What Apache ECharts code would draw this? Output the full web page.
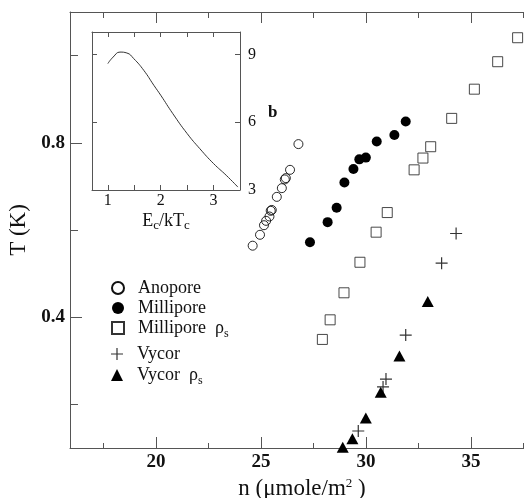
<!DOCTYPE html>
<html>
<head>
<meta charset="utf-8">
<script src="https://cdn.jsdelivr.net/npm/echarts@6/dist/echarts.min.js"></script>
<style>
  html, body { margin: 0; padding: 0; background: #fff; }
  #chart { width: 524px; height: 498px; }
</style>
</head>
<body>
<div id="chart"></div>
<script>
// main plot: T (K) vs n (umole/m^2)
const anoporeN = [24.60, 24.95, 25.14, 25.24, 25.40, 25.46, 25.51, 25.75, 25.99, 26.13, 26.18, 26.38, 26.78]
const anoporeT = [0.564, 0.589, 0.611, 0.621, 0.631, 0.644, 0.646, 0.676, 0.696, 0.716, 0.719, 0.738, 0.797]
const milliporeN = [27.33, 28.17, 28.60, 28.97, 29.40, 29.68, 29.99, 30.51, 31.35, 31.89]
const milliporeT = [0.572, 0.618, 0.651, 0.709, 0.740, 0.762, 0.766, 0.803, 0.818, 0.849]
const milliRhoN = [27.92, 28.29, 28.95, 29.71, 30.48, 31.01, 32.29, 32.71, 33.08, 34.08, 35.16, 36.27, 37.22]
const milliRhoT = [0.349, 0.394, 0.456, 0.526, 0.595, 0.640, 0.738, 0.765, 0.791, 0.856, 0.923, 0.986, 1.041]
const vycorN = [29.63, 30.81, 30.95, 31.89, 33.60, 34.29]
const vycorT = [0.139, 0.240, 0.258, 0.359, 0.524, 0.592]
const vycorRhoN = [28.89, 29.35, 29.99, 30.70, 31.59, 32.94]
const vycorRhoT = [0.102, 0.121, 0.169, 0.228, 0.311, 0.436]

// inset: b vs Ec/kTc
const insetX = [1.0, 1.1, 1.23, 1.36, 1.49, 1.68, 1.87, 2.0, 2.23, 2.5, 2.74, 3.0, 3.24, 3.46]
const insetB = [8.60, 8.89, 9.11, 9.07, 8.82, 8.30, 7.64, 7.20, 6.38, 5.50, 4.83, 4.17, 3.65, 3.13]

const xMajor = [20, 25, 30, 35]
const xMinor = [17.5, 22.5, 27.5, 32.5, 37.5]
const yMajor = [0.4, 0.8]
const yMinor = [0.2, 0.6, 1.0]
const insetXTicks = [1, 1.5, 2, 2.5, 3]
const insetXLabels = [1, 2, 3]
const insetYTicks = [3, 6, 9]
const legendTop = ['Anopore', 'Millipore', 'Millipore ρs']
const legendBottom = ['Vycor', 'Vycor ρs']

const FONT = 'Liberation Serif'
const INK = '#111'
const AXIS = '#555'

const zip = (a, b) => a.map((v, i) => [v, b[i]])

const plusPath = 'path://M0,4.5h10v1h-10z M4.5,0h1v10h-1z'

function xAx (opt) {
  return Object.assign({
    type: 'value', gridIndex: 0, min: 15.9, max: 38,
    splitLine: { show: false },
    axisLine: { show: false, lineStyle: { color: AXIS, width: 1 } },
    axisTick: { show: true, inside: true, lineStyle: { color: AXIS } },
    axisLabel: { show: false }
  }, opt)
}
function yAx (opt) {
  return Object.assign({
    type: 'value', gridIndex: 0, min: 0.1, max: 1.1, position: 'left',
    splitLine: { show: false },
    axisLine: { show: false, lineStyle: { color: AXIS, width: 1 } },
    axisTick: { show: true, inside: true, lineStyle: { color: AXIS } },
    axisLabel: { show: false }
  }, opt)
}
function leg (names, top, gap) {
  return {
    orient: 'vertical', left: 111, top: top, itemGap: gap, padding: 0,
    itemWidth: 12, itemHeight: 12,
    textStyle: {
      fontFamily: FONT, fontSize: 18, color: INK, padding: [0, 0, 0, 9],
      rich: { sub: { fontFamily: FONT, fontSize: 12, color: INK, verticalAlign: 'bottom', padding: [11, 0, 0, 0] } }
    },
    formatter: name => name.replace(' ρs', '  ρ{sub|s}'),
    data: names
  }
}

const option = {
  animation: false,
  backgroundColor: '#fff',
  textStyle: { fontFamily: FONT, color: INK },
  grid: [
    { left: 70, top: 12, right: -10, bottom: 50, outerBoundsMode: 'none', containLabel: false },
    { left: 92, top: 32, width: 148, height: 158, outerBoundsMode: 'none', containLabel: false }
  ],
  legend: [leg(legendTop, 279, 2), leg(legendBottom, 345, 3)],
  xAxis: [
    xAx({
      position: 'bottom',
      axisLine: { show: true, onZero: false, lineStyle: { color: AXIS } },
      axisTick: { show: true, inside: true, length: 11, customValues: xMajor, lineStyle: { color: AXIS } },
      axisLabel: { show: true, customValues: xMajor, margin: 5, fontFamily: FONT, fontSize: 19, fontWeight: 'bold', color: INK },
      name: 'n (μmole/m{sup|2} )', nameLocation: 'middle', nameGap: 29,
      nameTextStyle: {
        fontFamily: FONT, fontSize: 23, color: INK,
        rich: { sup: { fontFamily: FONT, fontSize: 13, color: INK, verticalAlign: 'top', padding: [0, 0, 10, 0] } }
      }
    }),
    xAx({ position: 'bottom', axisTick: { show: true, inside: true, length: 5, customValues: xMinor, lineStyle: { color: AXIS } } }),
    xAx({
      position: 'top',
      axisLine: { show: true, onZero: false, lineStyle: { color: AXIS } },
      axisTick: { show: true, inside: true, length: 11, customValues: xMajor, lineStyle: { color: AXIS } }
    }),
    xAx({ position: 'top', axisTick: { show: true, inside: true, length: 6, customValues: xMinor, lineStyle: { color: AXIS } } }),
    // inset
    {
      type: 'value', gridIndex: 1, min: 0.7, max: 3.5, position: 'bottom',
      splitLine: { show: false },
      axisLine: { show: true, onZero: false, lineStyle: { color: AXIS } },
      axisTick: { show: true, inside: true, length: 5, customValues: insetXTicks, lineStyle: { color: AXIS } },
      axisLabel: { show: true, customValues: insetXLabels, margin: 3, fontFamily: FONT, fontSize: 16, color: INK },
      name: 'E{sub|c}/kT{sub|c}', nameLocation: 'middle', nameGap: 21,
      nameTextStyle: {
        fontFamily: FONT, fontSize: 18, color: INK,
        rich: { sub: { fontFamily: FONT, fontSize: 13, color: INK, verticalAlign: 'bottom', padding: [8, 0, 0, 0] } }
      }
    },
    {
      type: 'value', gridIndex: 1, min: 0.7, max: 3.5, position: 'top',
      splitLine: { show: false },
      axisLine: { show: true, onZero: false, lineStyle: { color: AXIS } },
      axisTick: { show: true, inside: true, length: 5, customValues: insetXTicks, lineStyle: { color: AXIS } },
      axisLabel: { show: false }
    }
  ],
  yAxis: [
    yAx({
      axisLine: { show: true, onZero: false, lineStyle: { color: AXIS } },
      axisTick: { show: true, inside: true, length: 12, customValues: yMajor, lineStyle: { color: AXIS } },
      axisLabel: { show: true, customValues: yMajor, margin: 5, fontFamily: FONT, fontSize: 19, fontWeight: 'bold', color: INK },
      name: 'T (K)', nameLocation: 'middle', nameGap: 38, nameRotate: 90,
      nameTextStyle: { fontFamily: FONT, fontSize: 23, color: INK }
    }),
    yAx({ axisTick: { show: true, inside: true, length: 8, customValues: yMinor, lineStyle: { color: AXIS } } }),
    // inset
    {
      type: 'value', gridIndex: 1, min: 3, max: 10, position: 'right',
      splitLine: { show: false },
      axisLine: { show: true, onZero: false, lineStyle: { color: AXIS } },
      axisTick: { show: true, inside: true, length: 5, customValues: insetYTicks, lineStyle: { color: AXIS } },
      axisLabel: { show: true, customValues: insetYTicks, margin: 8, fontFamily: FONT, fontSize: 16, color: INK }
    },
    {
      type: 'value', gridIndex: 1, min: 3, max: 10, position: 'left',
      splitLine: { show: false },
      axisLine: { show: true, onZero: false, lineStyle: { color: AXIS } },
      axisTick: { show: true, inside: true, length: 5, customValues: insetYTicks, lineStyle: { color: AXIS } },
      axisLabel: { show: false }
    }
  ],
  graphic: [
    { type: 'text', left: 268, top: 104, style: { text: 'b', font: 'bold 17px "Liberation Serif"', fill: INK } }
  ],
  series: [
    {
      name: 'Anopore', type: 'scatter', xAxisIndex: 0, yAxisIndex: 0,
      symbol: 'circle', symbolSize: 9,
      itemStyle: { color: 'rgba(255,255,255,0)', borderColor: INK, borderWidth: 0.9, opacity: 1 },
      data: zip(anoporeN, anoporeT)
    },
    {
      name: 'Millipore', type: 'scatter', xAxisIndex: 0, yAxisIndex: 0,
      symbol: 'circle', symbolSize: 10,
      itemStyle: { color: '#000', opacity: 1 },
      data: zip(milliporeN, milliporeT)
    },
    {
      name: 'Millipore ρs', type: 'scatter', xAxisIndex: 0, yAxisIndex: 0,
      symbol: 'rect', symbolSize: 10,
      itemStyle: { color: 'rgba(255,255,255,0)', borderColor: '#333', borderWidth: 0.9, opacity: 1 },
      data: zip(milliRhoN, milliRhoT)
    },
    {
      name: 'Vycor', type: 'scatter', xAxisIndex: 0, yAxisIndex: 0,
      symbol: plusPath, symbolSize: 12,
      itemStyle: { color: '#333', opacity: 1 },
      data: zip(vycorN, vycorT)
    },
    {
      name: 'Vycor ρs', type: 'scatter', xAxisIndex: 0, yAxisIndex: 0,
      symbol: 'triangle', symbolSize: [12, 11],
      itemStyle: { color: '#000', opacity: 1 },
      data: zip(vycorRhoN, vycorRhoT)
    },
    {
      name: 'inset', type: 'line', xAxisIndex: 4, yAxisIndex: 2,
      smooth: true, showSymbol: false, symbol: 'none',
      lineStyle: { color: '#333', width: 1 },
      data: zip(insetX, insetB)
    }
  ]
}

const chart = echarts.init(document.getElementById('chart'))
chart.setOption(option)
</script>
</body>
</html>
